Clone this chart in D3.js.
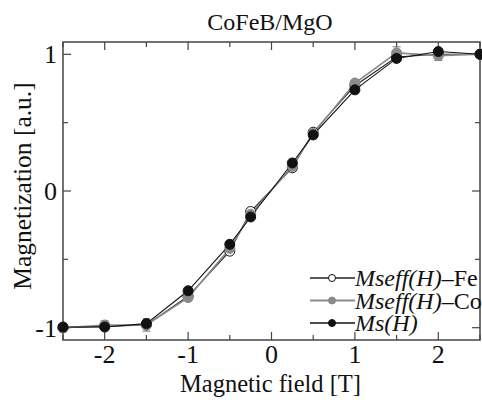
<!DOCTYPE html>
<html lang="en">
<head>
    <meta charset="UTF-8">
    <title>CoFeB/MgO</title>
    <style>
        body, html {
            margin: 0;
            padding: 0;
            background: #fff;
        }
        #chart {
            width: 482px;
            height: 400px;
        }
    </style>
    <script src="https://d3js.org/d3.v7.min.js"></script>
</head>
<body>
    <div id="chart"></div>
    <script>
        // field values [T]
        const field = [-2.5, -2, -1.5, -1, -0.5, -0.25, 0.25, 0.5, 1, 1.5, 2, 2.5];
        const msH   = [-0.995, -0.995, -0.97, -0.73, -0.39, -0.19, 0.205, 0.41, 0.74, 0.97, 1.02, 1.0];
        const fe    = [-1.0, -0.99, -0.98, -0.77, -0.44, -0.15, 0.17, 0.43, 0.77, 0.98, 1.0, 1.0];
        const co    = [-1.0, -0.98, -0.98, -0.78, -0.42, -0.17, 0.18, 0.42, 0.79, 1.01, 0.99, 1.0];
        const coErr = [0.03, 0.03, 0.045, 0.01, 0.01, 0.01, 0.01, 0.01, 0.01, 0.045, 0.035, 0.02];
        const xTicks = [-2, -1, 0, 1, 2];
        const yTicks = [-1, 0, 1];
        const legendLabels = [
            { it: "Mseff(H)", rest: "\u2013Fe" },
            { it: "Mseff(H)", rest: "\u2013Co" },
            { it: "Ms(H)", rest: "" }
        ];

        const FONT = "'Liberation Serif', 'DejaVu Serif', serif";

        const margin = { top: 42, right: 2, bottom: 60, left: 63 },
            width = 482 - margin.left - margin.right,
            height = 400 - margin.top - margin.bottom;

        const svg = d3.select("#chart").append("svg")
            .attr("width", 482)
            .attr("height", 400)
            .attr("font-family", FONT)
            .append("g")
            .attr("transform", `translate(${margin.left},${margin.top})`);

        const x = d3.scaleLinear().domain([-2.5, 2.5]).range([0, width]);
        const y = d3.scaleLinear().domain([-1.09, 1.09]).range([height, 0]);

        const frameColor = "#444";

        // ticks (inside, on all four sides)
        const xMinor = d3.range(-2.5, 2.51, 0.5).filter(v => !xTicks.includes(v));
        const yMinor = [-0.5, 0.5];
        function drawTicks(sel, vals, len) {
            vals.forEach(v => {
                sel.append("line").attr("x1", x(v)).attr("x2", x(v)).attr("y1", height).attr("y2", height - len);
                sel.append("line").attr("x1", x(v)).attr("x2", x(v)).attr("y1", 0).attr("y2", len);
            });
        }
        function drawYTicks(sel, vals, len) {
            vals.forEach(v => {
                sel.append("line").attr("y1", y(v)).attr("y2", y(v)).attr("x1", 0).attr("x2", len);
                sel.append("line").attr("y1", y(v)).attr("y2", y(v)).attr("x1", width).attr("x2", width - len);
            });
        }
        const tickG = svg.append("g").attr("stroke", frameColor).attr("stroke-width", 1.2);
        drawTicks(tickG, xTicks, 8);
        drawTicks(tickG, xMinor, 5);
        drawYTicks(tickG, yTicks, 8);
        drawYTicks(tickG, yMinor, 5);

        svg.append("rect")
            .attr("width", width)
            .attr("height", height)
            .attr("fill", "none")
            .attr("stroke", frameColor)
            .attr("stroke-width", 1.5);

        // tick labels
        svg.selectAll(".xl").data(xTicks).enter().append("text")
            .attr("x", d => x(d))
            .attr("y", height + 23)
            .attr("text-anchor", "middle")
            .attr("font-size", 26)
            .attr("fill", "#111")
            .text(d => d < 0 ? "-" + Math.abs(d) : d);

        svg.selectAll(".yl").data(yTicks).enter().append("text")
            .attr("x", -6)
            .attr("y", d => y(d) + 9)
            .attr("text-anchor", "end")
            .attr("font-size", 26)
            .attr("fill", "#111")
            .text(d => d < 0 ? "-" + Math.abs(d) : d);

        // axis titles
        svg.append("text")
            .attr("x", width / 2 - 1)
            .attr("y", height + 52)
            .attr("text-anchor", "middle")
            .attr("font-size", 24.5)
            .attr("fill", "#111")
            .text("Magnetic field [T]");

        svg.append("text")
            .attr("transform", `translate(-32,${186 - margin.top}) rotate(-90)`)
            .attr("text-anchor", "middle")
            .attr("font-size", 25.5)
            .attr("fill", "#111")
            .text("Magnetization [a.u.]");

        svg.append("text")
            .attr("x", 270 - margin.left)
            .attr("y", 30 - margin.top)
            .attr("text-anchor", "middle")
            .attr("font-size", 24)
            .attr("fill", "#111")
            .text("CoFeB/MgO");

        // series
        const line = d3.line().x(d => x(d[0])).y(d => y(d[1]));
        const series = [
            { vals: fe, stroke: "#222", fill: "#fff", lw: 1.1 },
            { vals: co, stroke: "#8a8a8a", fill: "#8a8a8a", lw: 1.6 },
            { vals: msH, stroke: "#111", fill: "#111", lw: 1.1 }
        ];

        // error bars for Co
        const errG = svg.append("g").attr("stroke", "#777").attr("stroke-width", 1);
        field.forEach((f, i) => {
            const lo = y(co[i] - coErr[i]), hi = y(co[i] + coErr[i]);
            errG.append("line").attr("x1", x(f)).attr("x2", x(f)).attr("y1", lo).attr("y2", hi);
            errG.append("line").attr("x1", x(f) - 4).attr("x2", x(f) + 4).attr("y1", lo).attr("y2", lo);
            errG.append("line").attr("x1", x(f) - 4).attr("x2", x(f) + 4).attr("y1", hi).attr("y2", hi);
        });

        series.forEach(s => {
            const pts = field.map((f, i) => [f, s.vals[i]]);
            svg.append("path")
                .datum(pts)
                .attr("d", line)
                .attr("fill", "none")
                .attr("stroke", s.stroke)
                .attr("stroke-width", s.lw);
        });
        series.forEach(s => {
            const pts = field.map((f, i) => [f, s.vals[i]]);
            svg.selectAll(null).data(pts).enter().append("circle")
                .attr("cx", d => x(d[0]))
                .attr("cy", d => y(d[1]))
                .attr("r", 5)
                .attr("fill", s.fill)
                .attr("stroke", s.stroke === "#8a8a8a" ? "#8a8a8a" : "#111")
                .attr("stroke-width", 1);
        });

        // legend
        const legend = svg.append("g").attr("transform", `translate(${310 - margin.left},${278 - margin.top})`);
        legendLabels.forEach((lab, i) => {
            const s = series[i];
            const g = legend.append("g").attr("transform", `translate(0,${i * 22.5})`);
            g.append("line").attr("x1", 0).attr("x2", 45).attr("y1", 0).attr("y2", 0)
                .attr("stroke", s.stroke).attr("stroke-width", s.lw + 0.3);
            g.append("circle").attr("cx", 22).attr("cy", 0).attr("r", 3.5)
                .attr("fill", s.fill)
                .attr("stroke", s.stroke === "#8a8a8a" ? "#8a8a8a" : "#111");
            const t = g.append("text").attr("x", 45).attr("y", 8).attr("font-size", 24).attr("fill", "#111");
            t.append("tspan").attr("font-style", "italic").text(lab.it);
            t.append("tspan").text(lab.rest);
        });
    </script>
</body>
</html>
